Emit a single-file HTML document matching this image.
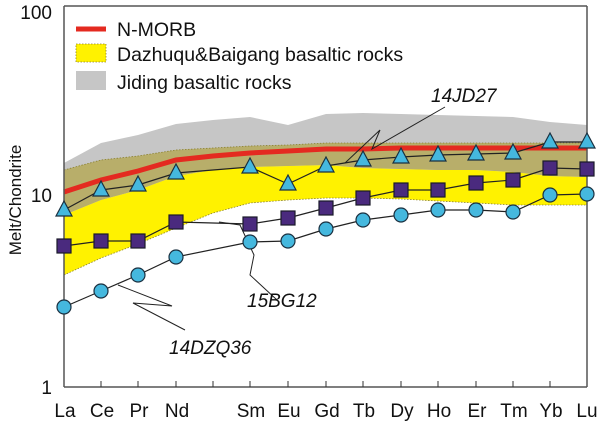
<!DOCTYPE html>
<html><head><meta charset="utf-8"><style>
html,body{margin:0;padding:0;background:#fff;}
svg{display:block;font-family:"Liberation Sans",Arial,sans-serif;}
</style></head><body>
<svg width="600" height="423" viewBox="0 0 600 423">
<polygon fill="#c6c6c6" points="64,163 101,143 138,135 176,124 213,120 250,117 288,125 326,114 363,113 401,114 438,115 476,116 513,117 550,122 587,125 587,177 550,176 513,172 476,170 438,170 401,169 363,168 326,165 288,166 250,167 213,170 176,176 138,190 101,200 64,215"/>
<polygon fill="#fff200" points="64,215 101,200 138,190 176,176 213,170 250,167 288,166 326,165 363,168 401,169 438,170 476,170 513,172 550,176 587,177 587,205 550,205 513,205 476,203 438,201 401,199 363,198 326,198 288,200 250,203 213,213 176,228 138,244 101,258 64,275"/>
<polygon fill="#b8ae6a" points="64,170 101,160 138,156 176,150 213,148 250,146 288,145 326,143 363,143 401,143 438,143 476,143 513,143 550,143 587,143 587,177 550,176 513,172 476,170 438,170 401,169 363,168 326,165 288,166 250,167 213,170 176,176 138,190 101,200 64,215"/>
<polyline fill="none" stroke="#8a8030" stroke-width="0.8" stroke-dasharray="1.5,1.5" points="64,170 101,160 138,156 176,150 213,148 250,146 288,145 326,143 363,143 401,143 438,143 476,143 513,143 550,143 587,143"/>
<polyline fill="none" stroke="#8a8030" stroke-width="0.8" stroke-dasharray="1.5,1.5" points="64,275 101,258 138,244 176,228 213,213 250,203 288,200 326,198 363,198 401,199 438,201 476,203 513,205 550,205 587,205"/>
<polyline fill="none" stroke="#e42a20" stroke-width="5" points="64,192 101,180 138,171 176,160 213,156 250,153 288,151 326,149 363,149 401,148 438,148 476,148 513,148 550,148 587,148"/>
<g stroke="#555" stroke-width="1.5" fill="none">
<line x1="64" y1="6" x2="587" y2="6"/>
<line x1="587" y1="6" x2="587" y2="387"/>
<line x1="64" y1="6" x2="64" y2="387"/>
<line x1="64" y1="387" x2="587" y2="387"/>
</g>
<g stroke="#333" stroke-width="1">
<line x1="101" y1="387" x2="101" y2="381"/><line x1="138" y1="387" x2="138" y2="381"/><line x1="176" y1="387" x2="176" y2="381"/><line x1="213" y1="387" x2="213" y2="381"/><line x1="250" y1="387" x2="250" y2="381"/><line x1="288" y1="387" x2="288" y2="381"/><line x1="326" y1="387" x2="326" y2="381"/><line x1="363" y1="387" x2="363" y2="381"/><line x1="401" y1="387" x2="401" y2="381"/><line x1="438" y1="387" x2="438" y2="381"/><line x1="476" y1="387" x2="476" y2="381"/><line x1="513" y1="387" x2="513" y2="381"/><line x1="550" y1="387" x2="550" y2="381"/>
</g>
<g fill="none" stroke="#222" stroke-width="1">
<polyline points="445,107 372,149 380,130 345,163"/>
<polyline points="219,222 240,225 254,255 250,275 277,300"/>
<polyline points="118,285 172,306 133,303 185,330"/>
</g>
<g fill="none" stroke="#222" stroke-width="1.2">
<polyline points="64,210 101,190 138,185 176,173 250,167 288,184 326,166 363,160 401,157 438,155 476,154 513,153 550,142 587,142"/>
<polyline points="64,246 101,241 138,241 176,222 250,224 288,218 326,208 363,198 401,190 438,190 476,183 513,180 550,168 587,169"/>
<polyline points="64,307 101,291 138,275 176,257 250,242 288,241 326,229 363,220 401,215 438,210 476,210 513,212 550,195 587,194"/>
</g>
<g fill="#45b8de" stroke="#1a3040" stroke-width="1.2">
<circle cx="64" cy="307" r="7"/><circle cx="101" cy="291" r="7"/><circle cx="138" cy="275" r="7"/><circle cx="176" cy="257" r="7"/><circle cx="250" cy="242" r="7"/><circle cx="288" cy="241" r="7"/><circle cx="326" cy="229" r="7"/><circle cx="363" cy="220" r="7"/><circle cx="401" cy="215" r="7"/><circle cx="438" cy="210" r="7"/><circle cx="476" cy="210" r="7"/><circle cx="513" cy="212" r="7"/><circle cx="550" cy="195" r="7"/><circle cx="587" cy="194" r="7"/>
</g>
<g fill="#4a2a7e" stroke="#1a1a2a" stroke-width="1.2">
<rect x="57" y="239" width="14" height="14"/><rect x="94" y="234" width="14" height="14"/><rect x="131" y="234" width="14" height="14"/><rect x="169" y="215" width="14" height="14"/><rect x="243" y="217" width="14" height="14"/><rect x="281" y="211" width="14" height="14"/><rect x="319" y="201" width="14" height="14"/><rect x="356" y="191" width="14" height="14"/><rect x="394" y="183" width="14" height="14"/><rect x="431" y="183" width="14" height="14"/><rect x="469" y="176" width="14" height="14"/><rect x="506" y="173" width="14" height="14"/><rect x="543" y="161" width="14" height="14"/><rect x="580" y="162" width="14" height="14"/>
</g>
<g fill="#45b8de" stroke="#1a3040" stroke-width="1.2">
<polygon points="64,201 56,216 72,216"/><polygon points="101,181 93,196 109,196"/><polygon points="138,176 130,191 146,191"/><polygon points="176,164 168,179 184,179"/><polygon points="250,158 242,173 258,173"/><polygon points="288,175 280,190 296,190"/><polygon points="326,157 318,172 334,172"/><polygon points="363,151 355,166 371,166"/><polygon points="401,148 393,163 409,163"/><polygon points="438,146 430,161 446,161"/><polygon points="476,145 468,160 484,160"/><polygon points="513,144 505,159 521,159"/><polygon points="550,133 542,148 558,148"/><polygon points="587,133 579,148 595,148"/>
</g>
<line x1="76" y1="29" x2="106" y2="29" stroke="#e42a20" stroke-width="5"/>
<rect x="76" y="44" width="30" height="18" fill="#fff200" stroke="#8a8030" stroke-width="0.8" stroke-dasharray="1.5,1.5"/>
<rect x="76" y="71" width="30" height="19" fill="#c6c6c6"/>
<g font-size="19.5" fill="#111">
<text x="117" y="36">N-MORB</text>
<text x="117" y="61">Dazhuqu&amp;Baigang basaltic rocks</text>
<text x="117" y="89">Jiding basaltic rocks</text>
</g>
<g font-size="19" font-style="italic" fill="#111">
<text x="431" y="102">14JD27</text>
<text x="247" y="307">15BG12</text>
<text x="169" y="354">14DZQ36</text>
</g>
<g font-size="19" fill="#111" text-anchor="end">
<text x="52" y="19">100</text>
<text x="52" y="202">10</text>
<text x="52" y="394">1</text>
</g>
<text transform="translate(21,200) rotate(-90)" font-size="17" fill="#111" text-anchor="middle">Melt/Chondrite</text>
<g font-size="19" fill="#111" text-anchor="middle">
<text x="65" y="417">La</text><text x="102" y="417">Ce</text><text x="139" y="417">Pr</text><text x="177" y="417">Nd</text><text x="251" y="417">Sm</text><text x="289" y="417">Eu</text><text x="327" y="417">Gd</text><text x="364" y="417">Tb</text><text x="402" y="417">Dy</text><text x="439" y="417">Ho</text><text x="477" y="417">Er</text><text x="514" y="417">Tm</text><text x="551" y="417">Yb</text><text x="587" y="417">Lu</text>
</g>
</svg>
</body></html>
